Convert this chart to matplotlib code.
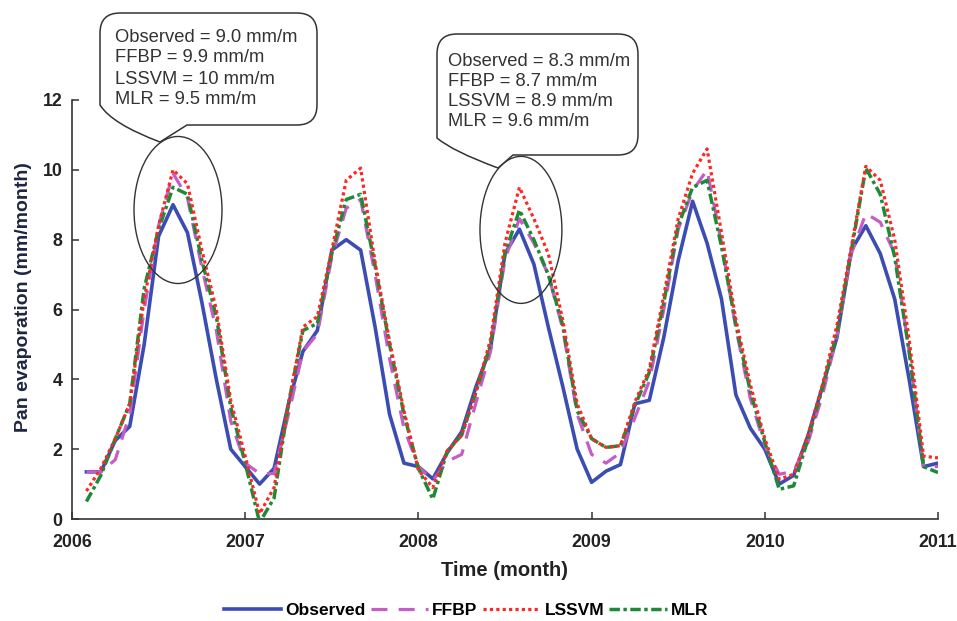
import numpy as np
import matplotlib
matplotlib.use("Agg")
import matplotlib.pyplot as plt
import matplotlib.transforms as mtransforms
from matplotlib import font_manager as fm
from matplotlib.patches import Ellipse, PathPatch
from matplotlib.path import Path

# monthly values, Jan 2006 .. Dec 2010 (mm/month)
observed = [1.35, 1.35, 2.25, 2.65, 5.0, 8.1, 9.0, 8.2, 6.2, 4.0, 2.0, 1.5,
            1.0, 1.45, 3.3, 4.8, 5.4, 7.7, 8.0, 7.7, 5.5, 3.0, 1.6, 1.5,
            1.15, 1.9, 2.5, 3.8, 4.9, 7.6, 8.3, 7.3, 5.5, 3.8, 2.0, 1.05,
            1.37, 1.56, 3.3, 3.4, 5.2, 7.4, 9.1, 7.9, 6.3, 3.55, 2.6, 2.0,
            1.0, 1.25, 2.4, 3.8, 5.2, 7.7, 8.4, 7.6, 6.3, 4.0, 1.5, 1.6]
ffbp = [1.35, 1.35, 1.7, 3.0, 6.0, 8.4, 9.9, 9.2, 7.2, 5.4, 2.8, 1.6,
        1.3, 1.3, 3.0, 4.8, 5.3, 7.5, 8.9, 9.15, 7.0, 4.6, 2.6, 1.5,
        1.1, 1.65, 1.85, 3.35, 4.8, 7.45, 8.6, 7.9, 7.0, 5.45, 3.0, 1.85,
        1.6, 1.9, 2.9, 3.95, 6.0, 8.3, 9.4, 10.0, 7.9, 5.45, 3.45, 2.1,
        1.28, 1.37, 2.2, 3.55, 5.25, 7.6, 8.75, 8.5, 7.6, 4.8, 1.5, 1.5]
lssvm = [0.8, 1.45, 2.3, 3.3, 6.3, 8.4, 10.0, 9.6, 7.7, 6.0, 3.4, 1.8,
         0.15, 0.9, 3.3, 5.5, 5.8, 7.7, 9.7, 10.05, 7.35, 5.1, 3.1, 1.4,
         0.9, 1.95, 2.4, 3.65, 5.15, 7.9, 9.5, 8.6, 7.6, 5.7, 3.3, 2.3,
         2.05, 2.1, 3.35, 4.3, 6.4, 8.6, 9.9, 10.6, 8.2, 5.7, 3.85, 2.3,
         1.14, 1.28, 2.4, 3.85, 5.55, 7.8, 10.1, 9.7, 8.0, 5.15, 1.8, 1.75]
mlr = [0.5, 1.25, 2.3, 3.3, 6.6, 8.3, 9.5, 9.3, 7.4, 5.8, 3.2, 1.6,
       -0.1, 0.6, 3.3, 5.4, 5.6, 7.6, 9.15, 9.3, 7.25, 5.0, 3.0, 1.45,
       0.57, 1.95, 2.4, 3.65, 5.0, 7.6, 8.85, 8.0, 7.0, 5.55, 3.1, 2.3,
       2.05, 2.1, 3.25, 4.2, 6.2, 8.4, 9.5, 9.7, 7.8, 5.55, 3.65, 2.2,
       0.85, 0.95, 2.3, 3.75, 5.35, 7.7, 10.05, 9.3, 7.5, 4.8, 1.5, 1.33]
years = [2006, 2007, 2008, 2009, 2010, 2011]
yticks = [0, 2, 4, 6, 8, 10, 12]

callout1 = ["Observed = 9.0 mm/m", "FFBP = 9.9 mm/m", "LSSVM = 10 mm/m", "MLR = 9.5 mm/m"]
callout2 = ["Observed = 8.3 mm/m", "FFBP = 8.7 mm/m", "LSSVM = 8.9 mm/m", "MLR = 9.6 mm/m"]

t = years[0] + np.arange(1, len(observed) + 1) / 12

names = {f.name for f in fm.fontManager.ttflist}
NARROW = "Liberation Sans Narrow" in names
TICKFONT = dict(family="Liberation Sans Narrow" if NARROW else "Liberation Sans",
                weight="bold", size=15 if NARROW else 12.8)

W, H = 957, 621
fig = plt.figure(figsize=(W / 100, H / 100), dpi=100)
ax = fig.add_axes([72 / W, 1 - 519 / H, (938 - 72) / W, (519 - 100) / H])

ax.plot(t, observed, color="#3b4db3", lw=2.6, label="Observed", zorder=3)
ax.plot(t, ffbp, color="#c65cc6", lw=2.3, ls=(0, (5, 3.5)), label="FFBP", zorder=4)
ax.plot(t, mlr, color="#1f8a36", lw=2.5, ls=(0, (3, 1, 1, 1)), label="MLR", zorder=5)
ax.plot(t, lssvm, color="#ff2626", lw=2.3, ls=(0, (1, 1)), label="LSSVM", zorder=6)

ax.set_xlim(years[0], years[-1])
ax.set_ylim(0, 12)
ax.set_xticks(years)
ax.set_yticks(yticks)
for s in ["top", "right"]:
    ax.spines[s].set_visible(False)
for s in ["left", "bottom"]:
    ax.spines[s].set_color("#333")
    ax.spines[s].set_linewidth(1.2)
ax.tick_params(direction="in", length=5, width=1.1, color="#333")
ax.tick_params(axis="x", pad=11)
ax.tick_params(axis="y", pad=7)
for lab in ax.get_xticklabels() + ax.get_yticklabels():
    lab.set_fontproperties(fm.FontProperties(**TICKFONT))
    lab.set_color("#222")

ax.set_xlabel("Time (month)", family="Liberation Sans", weight="bold", size=14.5, color="#222")
ax.xaxis.set_label_coords(0.5, -0.10)
ax.set_ylabel("Pan evaporation (mm/month)", family="Liberation Sans", weight="bold",
              size=14, color="#1e2540")
ax.yaxis.set_label_coords(-0.046, 0.53)

# ellipses around the two highlighted peaks
ax.add_patch(Ellipse((2006.612, 8.85), 0.508, 4.21, fill=False, ec="#333", lw=1.0, zorder=7))
ax.add_patch(Ellipse((2008.592, 8.28), 0.473, 4.21, fill=False, ec="#333", lw=1.0, zorder=7))

# speech bubbles drawn in pixel coordinates (y down)
px = mtransforms.Affine2D().scale(1 / W, -1 / H).translate(0, 1) + fig.transFigure


def bubble(left, top, right, bottom, r, base_x, tip, ctrl, join_y):
    verts = [(left + r, top), (right - r, top), (right, top), (right, top + r),
             (right, bottom - r), (right, bottom), (right - r, bottom),
             (base_x, bottom), tip, ctrl, (left, join_y),
             (left, top + r), (left, top), (left + r, top), (left + r, top)]
    codes = [Path.MOVETO, Path.LINETO, Path.CURVE3, Path.CURVE3,
             Path.LINETO, Path.CURVE3, Path.CURVE3,
             Path.LINETO, Path.LINETO, Path.CURVE3, Path.CURVE3,
             Path.LINETO, Path.CURVE3, Path.CURVE3, Path.CLOSEPOLY]
    p = PathPatch(Path(verts, codes), transform=px, fc="white", ec="#333", lw=1.1, zorder=8)
    fig.add_artist(p)


bubble(100, 13, 317, 125, 20, 187, (160, 142), (112, 124), 105)
bubble(437, 34, 638, 155, 20, 513, (498, 168), (452, 151), 138)

for i, s in enumerate(callout1):
    fig.text(115, 37 + i * 21, s, transform=px, va="center", ha="left",
             family="Liberation Sans", size=13.2, color="#333", zorder=9)
for i, s in enumerate(callout2):
    fig.text(448, 62 + i * 20, s, transform=px, va="center", ha="left",
             family="Liberation Sans", size=13.2, color="#333", zorder=9)

h, l = ax.get_legend_handles_labels()
order = [l.index(k) for k in ["Observed", "FFBP", "LSSVM", "MLR"]]
fig.legend([h[i] for i in order], [l[i] for i in order], loc="center",
           bbox_to_anchor=(466 / W, 1 - 610 / H), ncol=4, frameon=False,
           handlelength=3.3, handletextpad=0.25, columnspacing=0.3,
           prop=fm.FontProperties(**dict(TICKFONT, size=TICKFONT["size"] - 0.3)))

fig.savefig("out.png", dpi=100, facecolor="white")
